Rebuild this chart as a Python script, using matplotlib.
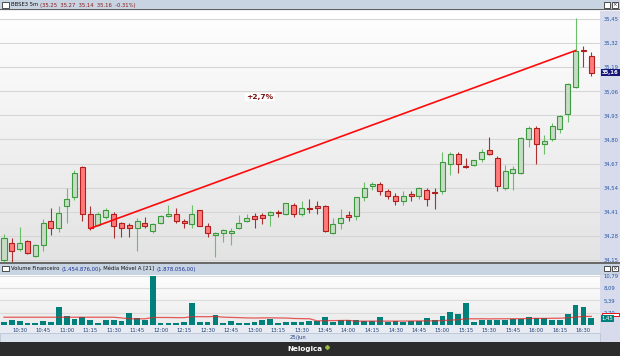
import numpy as np
import matplotlib.pyplot as plt
from matplotlib.patches import Rectangle

# candles, 5 min, first one at 10:20
opens = [34.15, 34.24, 34.21, 34.25, 34.17, 34.23, 34.36, 34.32, 34.44, 34.49,
         34.65, 34.40, 34.34, 34.38, 34.40, 34.35, 34.34, 34.32, 34.35, 34.305,
         34.35, 34.385, 34.40, 34.36, 34.345, 34.42, 34.335, 34.285, 34.295, 34.295,
         34.325, 34.36, 34.385, 34.39, 34.395, 34.41, 34.40, 34.445, 34.40, 34.43,
         34.44, 34.44, 34.295, 34.35, 34.395, 34.385, 34.49, 34.55, 34.56, 34.52,
         34.495, 34.47, 34.505, 34.495, 34.53, 34.515, 34.52, 34.67, 34.72, 34.655,
         34.66, 34.695, 34.745, 34.70, 34.54, 34.62, 34.62, 34.805, 34.86, 34.775,
         34.805, 34.855, 34.935, 35.085, 35.285, 35.25]
highs = [34.29, 34.27, 34.33, 34.26, 34.235, 34.37, 34.43, 34.44, 34.54, 34.635,
         34.655, 34.44, 34.41, 34.43, 34.41, 34.355, 34.35, 34.375, 34.38, 34.35,
         34.39, 34.445, 34.43, 34.37, 34.445, 34.42, 34.35, 34.30, 34.315, 34.32,
         34.39, 34.40, 34.405, 34.405, 34.415, 34.42, 34.46, 34.455, 34.47, 34.48,
         34.47, 34.445, 34.375, 34.425, 34.415, 34.49, 34.57, 34.57, 34.57, 34.535,
         34.51, 34.52, 34.52, 34.545, 34.54, 34.54, 34.73, 34.73, 34.73, 34.70,
         34.69, 34.75, 34.815, 34.71, 34.66, 34.655, 34.815, 34.875, 34.875, 34.825,
         34.89, 34.93, 35.105, 35.455, 35.305, 35.27]
lows = [34.14, 34.14, 34.20, 34.18, 34.165, 34.20, 34.285, 34.30, 34.35, 34.475,
        34.36, 34.31, 34.335, 34.37, 34.27, 34.275, 34.275, 34.20, 34.32, 34.295,
        34.345, 34.38, 34.35, 34.32, 34.32, 34.335, 34.275, 34.165, 34.245, 34.23,
        34.315, 34.355, 34.325, 34.345, 34.335, 34.38, 34.395, 34.38, 34.385, 34.405,
        34.40, 34.30, 34.29, 34.315, 34.36, 34.365, 34.47, 34.525, 34.50, 34.48,
        34.445, 34.445, 34.47, 34.48, 34.44, 34.425, 34.505, 34.61, 34.62, 34.645,
        34.655, 34.68, 34.715, 34.52, 34.53, 34.53, 34.615, 34.76, 34.67, 34.72,
        34.79, 34.835, 34.895, 35.08, 35.19, 35.14]
closes = [34.27, 34.20, 34.24, 34.19, 34.23, 34.35, 34.32, 34.405, 34.48, 34.62,
          34.40, 34.32, 34.40, 34.42, 34.335, 34.32, 34.32, 34.36, 34.335, 34.345,
          34.385, 34.40, 34.36, 34.35, 34.40, 34.335, 34.295, 34.295, 34.31, 34.305,
          34.35, 34.375, 34.37, 34.375, 34.41, 34.405, 34.455, 34.40, 34.43, 34.425,
          34.43, 34.305, 34.345, 34.375, 34.38, 34.49, 34.54, 34.56, 34.52, 34.495,
          34.47, 34.495, 34.495, 34.54, 34.48, 34.51, 34.68, 34.72, 34.67, 34.65,
          34.69, 34.73, 34.72, 34.55, 34.63, 34.64, 34.81, 34.86, 34.775, 34.79,
          34.875, 34.925, 35.10, 35.28, 35.275, 35.16]
# volume financeiro, millions
volumes = [0.6, 1.0, 0.77, 0.33, 0.48, 0.92, 0.62, 3.9, 1.87, 1.35,
           1.7, 1.2, 0.33, 1.13, 1.0, 0.92, 2.6, 1.5, 1.13, 10.7,
           0.48, 0.48, 0.48, 0.6, 4.9, 0.55, 0.55, 2.1, 0.4, 0.77,
           0.4, 0.4, 0.62, 1.0, 1.28, 0.48, 0.6, 0.6, 0.6, 0.77,
           0.85, 1.65, 0.6, 1.0, 1.0, 1.2, 0.85, 0.85, 1.65, 0.6,
           0.85, 0.6, 0.85, 0.85, 1.5, 1.0, 1.87, 2.8, 2.37, 4.9,
           0.6, 1.0, 1.13, 1.0, 1.0, 1.35, 1.35, 1.65, 1.5, 1.5,
           1.2, 1.2, 2.3, 4.45, 3.85, 1.45]
# moving average (21) for the first candles
ma_head = [1.70, 1.70, 1.70, 1.70, 1.70, 1.70, 1.70, 1.70, 1.70, 1.70,
           1.70, 1.70, 1.70, 1.70, 1.70, 1.55, 1.35, 1.35, 1.35, 1.65]

price_ticks = [34.15, 34.28, 34.41, 34.54, 34.67, 34.80, 34.93, 35.06, 35.19, 35.32, 35.45]
vol_ticks = [2.70, 5.39, 8.09, 10.79]
start_min = 10 * 60 + 20
line_start, line_end = 11, 73

n = len(closes)
x = np.arange(n)
o = np.array(opens); c = np.array(closes)
up = c >= o
ma = list(ma_head) + [np.mean(volumes[i - 20:i + 1]) for i in range(20, n)]

W, H = 620, 356
fig = plt.figure(figsize=(6.2, 3.56), dpi=100)

def frac(x0, y0, x1, y1):
    return [x0 / W, 1 - y1 / H, (x1 - x0) / W, (y1 - y0) / H]

fs = 3.8
bg = fig.add_axes([0, 0, 1, 1])
bg.set_xlim(0, W); bg.set_ylim(H, 0); bg.axis('off')
def box(x0, y0, x1, y1, col, **kw):
    bg.add_patch(Rectangle((x0, y0), x1 - x0, y1 - y0, facecolor=col, edgecolor=kw.pop('ec', 'none'), lw=kw.pop('lw', 0.6), **kw))
box(0, 0, W, H, '#eef0f4')
box(0, 0, W, 9.5, '#c8d4e1')
box(0, 9.2, W, 10.5, '#5e5e5e')
box(600, 10.5, W, 342, '#d7dbec')
box(0, 262, W, 263.5, '#6a6a6a')
box(0, 263.5, W, 274.5, '#c8d4e1')
box(0, 325, 600, 333, '#e8ecf2')
box(0, 333, 600, 342, '#dce4ef', ec='#b9c4d4')
box(0, 342, W, H, '#2c2c2c')
# window icons
for (a, b, yy) in [(2, 9, 2), (2, 9, 265.5)]:
    box(a, yy, b, yy + 5.5, 'white', ec='#333333')
for yy in [2, 265.5]:
    box(604, yy, 610, yy + 5.5, 'white', ec='#333333')
    box(611.5, yy, 617.5, yy + 5.5, 'white', ec='#333333')
    bg.text(614.5, yy + 2.9, '×', fontsize=4, ha='center', va='center', color='#222222')

t = bg.text(11, 5, 'BBSE3 5m ', fontsize=fs, va='center', color='#111111')
bg.annotate('(35.25  35.27  35.14  35.16  -0.31%)', xy=(1, 0), xycoords=t, va='bottom',
            fontsize=fs, color='#8b1a1a')
t = bg.text(11, 269, 'Volume Financeiro ', fontsize=fs, va='center', color='#111111')
t = bg.annotate('(1.454.876,00)', xy=(1, 0), xycoords=t, va='bottom', fontsize=fs, color='#1a2f9a')
t = bg.annotate(', Média Móvel A [21] ', xy=(1, 0), xycoords=t, va='bottom', fontsize=fs, color='#111111')
bg.annotate('(1.878.056,00)', xy=(1, 0), xycoords=t, va='bottom', fontsize=fs, color='#1a2f9a')
bg.text(298, 337.7, '25/jun', fontsize=fs, ha='center', va='center', color='#1f3f78')
bg.text(305, 349.5, 'Nelogica', fontsize=5.2, fontweight='bold', ha='center', va='center', color='white')
bg.plot([326.5], [347.2], marker='P', ms=3, color='#8cc63f', mec='#c8e04a', mew=0.3)

def gradient(ax, top, bottom):
    g = np.linspace(0, 1, 256)[:, None]
    t_ = np.array(plt.matplotlib.colors.to_rgb(top)); b_ = np.array(plt.matplotlib.colors.to_rgb(bottom))
    img = t_ * (1 - g[..., None]) + b_ * g[..., None]
    ax.imshow(img, extent=[0, 1, 0, 1], transform=ax.transAxes, aspect='auto', zorder=0)

xl = (-4 / 7.83, (600 - 4) / 7.83)

# price panel
ax = fig.add_axes(frac(0, 10.5, 600, 262))
gradient(ax, '#ffffff', '#e3e3e3')
ax.set_xlim(*xl)
ax.set_ylim(34.139, 35.496)
ax.vlines(x, lows, highs, colors=np.where(up, '#6bbf6b', '#a83232'), lw=0.8, zorder=2)
ax.bar(x, np.maximum(np.abs(c - o), 0.002), bottom=np.minimum(o, c), width=0.64,
       color=np.where(up, '#c6dcc6', '#ff7b7b'), edgecolor=np.where(up, '#3c9a3c', '#b01e1e'),
       lw=0.8, zorder=3)
ax.plot([line_start, line_end], [closes[line_start], closes[line_end]], color='#ff0a0a', lw=1.2, zorder=4)
ax.text(32.7, 35.03, '+2,7%', fontsize=5.4, fontweight='bold', color='#7a0f0f', ha='center', va='center',
        bbox=dict(fc='white', ec='none', pad=0.8), zorder=5)
ax.set_yticks(price_ticks)
ax.set_yticklabels([f'{v:.2f}'.replace('.', ',') for v in price_ticks])
ax.yaxis.tick_right()
ax.tick_params(axis='y', length=0, pad=2.5, labelsize=fs, labelcolor='#2456a4')
ax.set_xticks([])
ax.grid(axis='y', color='#d6d6d6', lw=0.8, zorder=1)
ax.set_axisbelow(True)
for s in ax.spines.values():
    s.set_visible(False)
ax.text(1.003, closes[-1], f'{closes[-1]:.2f}'.replace('.', ','), transform=ax.get_yaxis_transform(),
        fontsize=fs, color='white', va='center', ha='left', fontweight='bold',
        bbox=dict(fc='#17177a', ec='none', pad=0.7), zorder=6, clip_on=False)

# volume panel
av = fig.add_axes(frac(0, 274.5, 600, 325))
gradient(av, '#ffffff', '#ebebeb')
av.set_xlim(*xl)
av.set_ylim(0, 11.05)
av.bar(x, volumes, width=0.74, color='#00807a', zorder=3)
av.plot(x, ma, color='#e02828', alpha=0.75, lw=0.9, zorder=4)
av.set_yticks(vol_ticks)
av.set_yticklabels([f'{v:.2f}'.replace('.', ',') for v in vol_ticks])
av.yaxis.tick_right()
av.tick_params(axis='y', length=0, pad=2.5, labelsize=fs, labelcolor='#2456a4')
tick_idx = list(range(2, n, 3))
av.set_xticks(tick_idx)
av.set_xticklabels([f'{(start_min + 5 * i) // 60}:{(start_min + 5 * i) % 60:02d}' for i in tick_idx])
av.tick_params(axis='x', length=0, pad=2.2, labelsize=fs, labelcolor='#1f3f78')
av.grid(axis='y', color='#dcdcdc', lw=0.8, zorder=1)
av.set_axisbelow(True)
for s in av.spines.values():
    s.set_visible(False)
# marker of the moving average value on the right axis
av.add_patch(Rectangle((1.004, ma[-1]), 0.028, 0.65, transform=av.get_yaxis_transform(),
                       facecolor='white', edgecolor='#dd1111', lw=0.7, zorder=6, clip_on=False))
av.text(1.003, volumes[-1], f'{volumes[-1]:.2f}'.replace('.', ','), transform=av.get_yaxis_transform(),
        fontsize=fs, color='white', va='center', ha='left',
        bbox=dict(fc='#00807a', ec='none', pad=0.6), zorder=7, clip_on=False)

fig.savefig('out.png', dpi=100)
